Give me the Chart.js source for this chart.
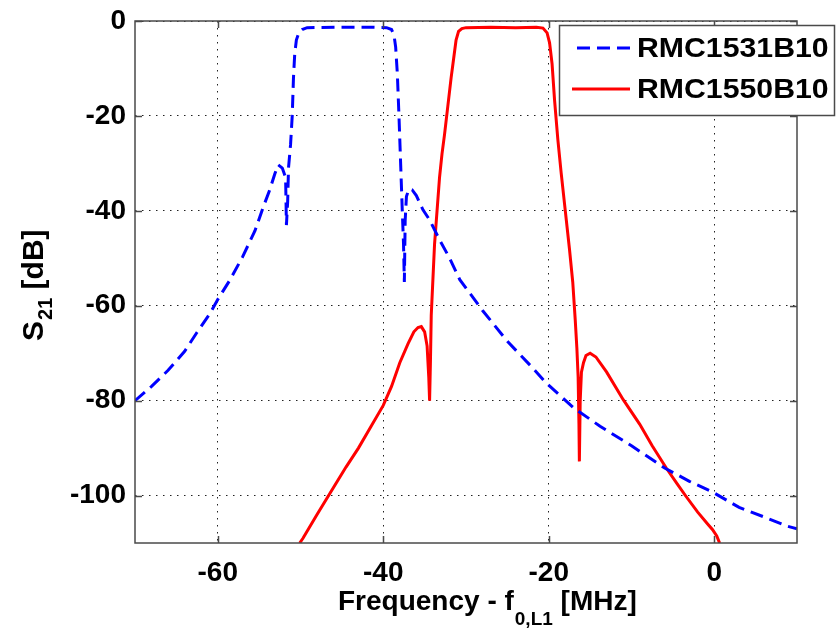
<!DOCTYPE html>
<html>
<head>
<meta charset="utf-8">
<script src="https://cdn.jsdelivr.net/npm/chart.js@4/dist/chart.umd.min.js"></script>
<style>
html,body{margin:0;padding:0;background:#fff;}
#wrap{width:837px;height:630px;}
</style>
</head>
<body>
<div id="wrap"><canvas id="c" width="837" height="630"></canvas></div>
<script>
// ---- data ----
const seriesNames = ['RMC1531B10', 'RMC1550B10'];

const blueFreq = [-70, -68, -66, -64, -62.5, -61, -60, -58.5, -57, -55.5, -54.5, -53.7, -53.1, -52.7, -52.2, -51.8, -51.7, -51.55, -51.45, -51.2, -51.0, -50.85, -50.7, -50.5, -50.2, -49.8, -49.2, -45, -42, -39.6, -39.0, -38.7, -38.5, -38.3, -38.1, -37.9, -37.7, -37.55, -37.45, -37.35, -37.2, -36.9, -36.5, -36.0, -35.2, -34.4, -33.2, -32.0, -30.75, -28, -25, -22, -20.3, -17, -13.8, -10, -6, -3, -0.16, 3, 6, 8.9, 10];
const blueDb = [-80, -77, -73.6, -69.6, -65.6, -61.8, -58.7, -54.5, -49.7, -44.2, -39.2, -35.5, -32.2, -30.3, -31, -33, -43, -38, -31, -26, -20, -12, -7, -4, -2.5, -1.8, -1.4, -1.3, -1.3, -1.4, -1.8, -3, -5.5, -11, -20, -30, -40, -47, -55, -42, -37, -35.4, -35.6, -36.8, -39.8, -41.9, -46.1, -49.9, -54.5, -61, -67.5, -73, -76.3, -81.5, -85.4, -89.5, -94.2, -97, -99.3, -102.5, -104.5, -106.5, -107];

const redFreq = [-50.1, -49.7, -48, -46.4, -44.5, -43, -41.5, -40, -39, -38, -37, -36.3, -35.8, -35.4, -35.0, -34.7, -34.5, -34.4, -34.3, -34.2, -34.0, -33.8, -33.5, -33.2, -32.9, -32.6, -32.2, -31.8, -31.5, -31.2, -30.9, -30.5, -30, -27, -24, -21.5, -20.7, -20.2, -19.9, -19.6, -19.3, -18.9, -18.5, -18.0, -17.5, -17.1, -16.8, -16.6, -16.45, -16.35, -16.3, -16.2, -16.05, -15.8, -15.5, -15.0, -14.3, -13, -11, -9, -7.5, -5.8, -4.5, -3.4, -2, -0.8, -0.2, 0.3, 0.65];
const redDb = [-110, -109, -104, -99.4, -94, -90, -85.5, -81, -77, -72, -68, -65.5, -64.6, -64.4, -65.5, -68.5, -75, -80, -72, -62, -54.5, -47, -40, -33, -28, -24, -18, -12, -8, -4, -2.2, -1.6, -1.4, -1.3, -1.4, -1.3, -1.5, -2.5, -4.6, -9, -16.6, -25, -32, -40, -48, -55, -63, -69, -75, -85, -92.8, -80, -74, -72, -70.5, -70, -70.8, -74, -79.8, -85, -89.5, -94.2, -97.5, -100.2, -103.5, -106, -107.2, -108.5, -110];

const xTickValues = [-60, -40, -20, 0];
const yTickValues = [0, -20, -40, -60, -80, -100];
const xRange = [-70, 10];
const yRange = [-110, 0];
const xTitleMain = 'Frequency - f';
const xTitleSub = '0,L1';
const xTitleEnd = ' [MHz]';
const yTitleMain = 'S';
const yTitleSub = '21';
const yTitleEnd = ' [dB]';

// ---- chart ----
const FONT = '"Liberation Sans", Arial, sans-serif';
const toPts = (xs, ys) => xs.map((v, i) => ({x: v, y: ys[i]}));

const framePlugin = {
  id: 'frame',
  afterDatasetsDraw(chart) {
    const {ctx, chartArea: a, scales: {x, y}} = chart;
    ctx.save();
    ctx.strokeStyle = '#4a4a4a';
    ctx.lineWidth = 1.5;
    ctx.strokeRect(a.left, a.top, a.right - a.left, a.bottom - a.top);
    ctx.beginPath();
    const tl = 7;
    xTickValues.forEach(v => {
      const p = Math.round(x.getPixelForValue(v)) + 0.5;
      ctx.moveTo(p, a.bottom); ctx.lineTo(p, a.bottom - tl);
      ctx.moveTo(p, a.top); ctx.lineTo(p, a.top + tl);
    });
    yTickValues.forEach(v => {
      const p = Math.round(y.getPixelForValue(v)) + 0.5;
      ctx.moveTo(a.left, p); ctx.lineTo(a.left + tl, p);
      ctx.moveTo(a.right, p); ctx.lineTo(a.right - tl, p);
    });
    ctx.stroke();
    ctx.restore();
  },
  afterDraw(chart) {
    const {ctx} = chart;
    ctx.save();
    ctx.fillStyle = '#000';
    ctx.textBaseline = 'alphabetic';
    ctx.textAlign = 'left';
    // x title
    const big = 'bold 28px ' + FONT, small = 'bold 19px ' + FONT;
    let xx = 338;
    ctx.font = big; ctx.fillText(xTitleMain, xx, 610); xx += ctx.measureText(xTitleMain).width + 1;
    ctx.font = small; ctx.fillText(xTitleSub, xx, 625); xx += ctx.measureText(xTitleSub).width;
    ctx.font = big; ctx.fillText(xTitleEnd, xx, 610);
    // y title
    ctx.save();
    ctx.translate(43, 341);
    ctx.rotate(-Math.PI / 2);
    let yy = 0;
    const ybig = 'bold 30px ' + FONT, ysmall = 'bold 20px ' + FONT;
    ctx.font = ybig; ctx.fillText(yTitleMain, yy, 0); yy += ctx.measureText(yTitleMain).width + 1;
    ctx.font = ysmall; ctx.fillText(yTitleSub, yy, 9); yy += ctx.measureText(yTitleSub).width;
    ctx.font = ybig; ctx.fillText(yTitleEnd, yy, 0);
    ctx.restore();
    // legend
    const box = {l: 559.5, t: 25.5, r: 834.5, b: 115.5};
    ctx.fillStyle = '#fff';
    ctx.fillRect(box.l, box.t, box.r - box.l, box.b - box.t);
    ctx.strokeStyle = '#4a4a4a';
    ctx.lineWidth = 1.5;
    ctx.strokeRect(box.l, box.t, box.r - box.l, box.b - box.t);
    const rows = [{y: 48, x0: 577, x1: 630, ty: 57}, {y: 89, x0: 572, x1: 630, ty: 98}];
    chart.data.datasets.forEach((ds, i) => {
      const r = rows[i];
      ctx.beginPath();
      ctx.strokeStyle = ds.borderColor;
      ctx.lineWidth = 3;
      ctx.setLineDash(ds.borderDash || []);
      ctx.moveTo(r.x0, r.y); ctx.lineTo(r.x1, r.y);
      ctx.stroke();
      ctx.setLineDash([]);
      ctx.fillStyle = '#000';
      ctx.font = 'bold 28px ' + FONT;
      ctx.save();
      ctx.translate(637, r.ty);
      ctx.scale(1.08, 1);
      ctx.fillText(ds.label, 0, 0);
      ctx.restore();
    });
    ctx.restore();
  }
};

new Chart(document.getElementById('c'), {
  type: 'line',
  data: {
    datasets: [
      {label: seriesNames[0], data: toPts(blueFreq, blueDb), borderColor: '#0000ff', borderWidth: 3, borderDash: [13, 7], pointRadius: 0, tension: 0, fill: false},
      {label: seriesNames[1], data: toPts(redFreq, redDb), borderColor: '#ff0000', borderWidth: 3, pointRadius: 0, tension: 0, fill: false}
    ]
  },
  options: {
    responsive: false,
    animation: false,
    events: [],
    layout: {padding: {left: 0, right: 40, top: 21, bottom: 0}},
    plugins: {legend: {display: false}, tooltip: {enabled: false}},
    scales: {
      x: {
        type: 'linear', min: xRange[0], max: xRange[1],
        afterBuildTicks: s => { s.ticks = xTickValues.map(v => ({value: v})); },
        afterFit: s => { s.height = 87; s.paddingLeft = 0; s.paddingRight = 0; },
        grid: {color: '#222', lineWidth: 1, drawTicks: false},
        border: {display: false, dash: [1.5, 5.5]},
        ticks: {color: '#000', font: {family: FONT, size: 28, weight: 'bold'}, padding: 13, maxRotation: 0}
      },
      y: {
        type: 'linear', min: yRange[0], max: yRange[1],
        afterBuildTicks: s => { s.ticks = yTickValues.map(v => ({value: v})); },
        afterFit: s => { s.width = 135; s.paddingTop = 0; s.paddingBottom = 0; },
        grid: {color: '#222', lineWidth: 1, drawTicks: false},
        border: {display: false, dash: [1.5, 5.5]},
        ticks: {color: '#000', font: {family: FONT, size: 28, weight: 'bold'}, padding: 9}
      }
    }
  },
  plugins: [framePlugin]
});
</script>
</body>
</html>
